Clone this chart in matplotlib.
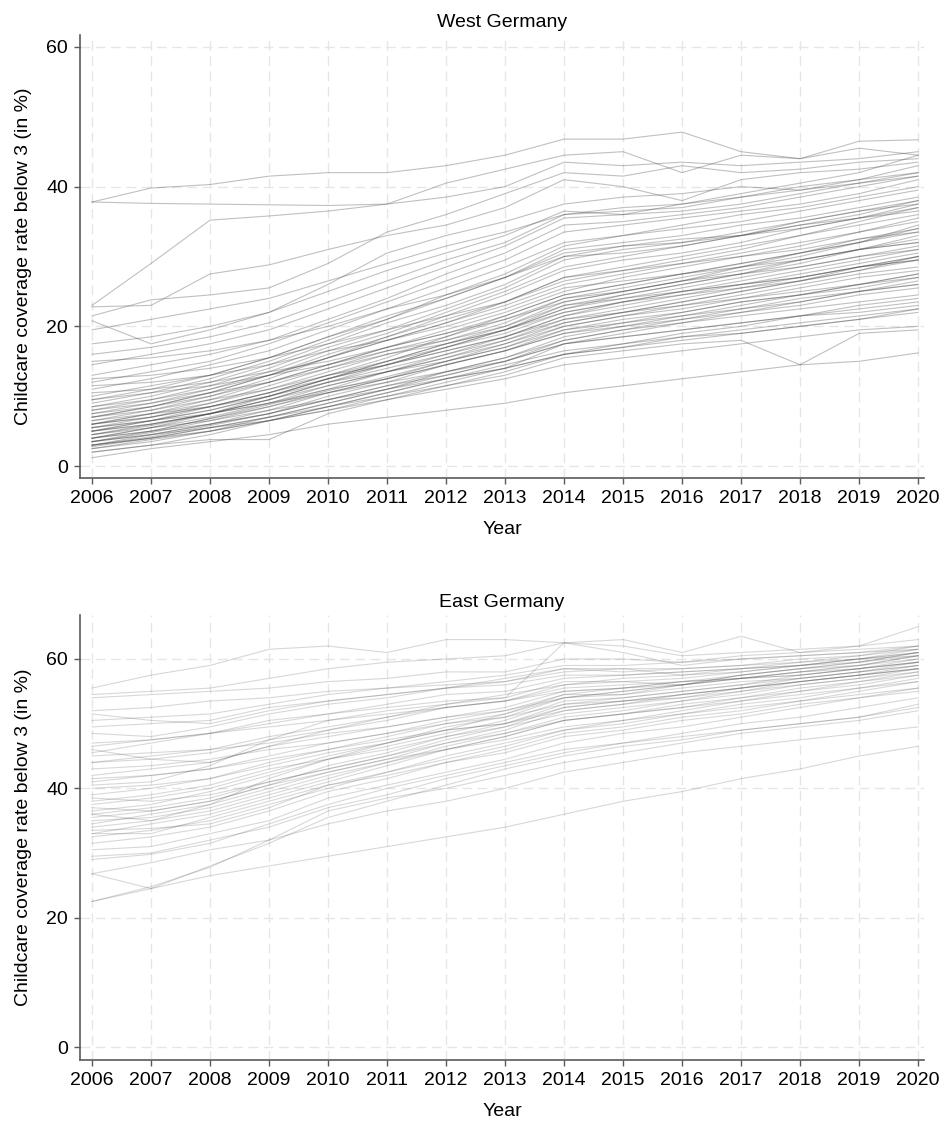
import matplotlib
matplotlib.use("Agg")
import matplotlib.pyplot as plt

plt.rcParams['font.family'] = ['Liberation Sans', 'DejaVu Sans']

years = list(range(2006, 2021))
year_ticks = years
rate_ticks = [0, 20, 40, 60]

# West German districts, childcare coverage for under-3s (%), 2006-2020
west_upper = [
    [37.8, 39.8, 40.3, 41.5, 42.0, 42.0, 43.0, 44.5, 46.8, 46.8, 47.8, 45.0, 44.0, 46.5, 46.7],
    [37.8, 37.6, 37.5, 37.4, 37.3, 37.5, 38.5, 40.0, 43.5, 43.0, 43.5, 43.0, 43.5, 44.0, 45.0],
    [23.0, 29.0, 35.2, 35.8, 36.5, 37.5, 40.5, 42.5, 44.5, 45.0, 42.0, 44.5, 44.0, 45.5, 44.5],
    [21.5, 23.8, 24.5, 25.5, 29.0, 33.5, 36.0, 39.0, 42.0, 41.5, 43.0, 42.0, 42.5, 43.5, 44.0],
    [22.8, 23.0, 27.5, 28.8, 31.0, 33.0, 34.5, 37.0, 41.0, 40.0, 38.0, 41.0, 42.0, 42.5, 43.5],
    [20.8, 17.5, 19.5, 22.0, 26.0, 30.5, 33.0, 35.0, 37.5, 38.5, 39.0, 40.0, 39.5, 41.0, 42.0],
    [19.5, 21.0, 22.5, 24.0, 26.5, 29.0, 31.5, 33.5, 36.0, 37.0, 37.5, 38.5, 39.5, 40.5, 41.5],
    [17.5, 18.5, 20.0, 22.0, 25.0, 28.0, 30.5, 33.0, 36.5, 36.0, 37.5, 39.0, 40.5, 42.0, 44.5],
    [16.0, 17.0, 18.5, 20.5, 23.5, 26.5, 29.5, 32.0, 36.0, 36.5, 37.0, 38.5, 40.0, 41.0, 43.0],
    [14.5, 16.0, 17.5, 19.5, 22.5, 25.5, 28.5, 31.5, 35.5, 36.0, 36.5, 37.5, 39.0, 40.5, 42.0],
    [15.0, 15.5, 16.5, 18.0, 20.0, 22.5, 24.5, 27.0, 30.5, 31.5, 32.0, 33.0, 34.0, 35.5, 36.5],
    [13.0, 14.5, 16.0, 18.0, 21.0, 24.0, 27.5, 30.5, 34.5, 35.0, 36.0, 37.0, 38.5, 40.0, 41.5],
    [12.0, 13.5, 15.0, 17.5, 20.5, 23.5, 26.5, 29.5, 33.5, 34.5, 35.5, 36.5, 37.5, 39.0, 41.0],
    [12.5, 13.0, 14.0, 15.5, 17.5, 19.5, 21.5, 23.5, 27.0, 28.0, 29.0, 30.0, 31.0, 32.5, 33.5],
    [11.0, 12.5, 14.5, 16.5, 19.5, 22.5, 25.5, 28.5, 32.0, 33.0, 34.5, 36.0, 37.0, 38.5, 40.0],
    [11.5, 12.0, 13.0, 14.5, 16.5, 18.0, 20.0, 22.5, 25.5, 26.5, 27.5, 28.5, 29.5, 31.0, 32.0],
]

west_middle = [
    [10.0, 11.5, 13.0, 15.5, 18.5, 21.0, 24.5, 27.5, 31.5, 33.0, 34.0, 35.0, 36.5, 38.0, 39.5],
    [10.5, 11.0, 12.0, 13.5, 15.0, 17.0, 19.0, 21.0, 24.0, 25.0, 26.5, 27.5, 28.5, 30.0, 31.0],
    [9.5, 11.0, 13.0, 15.5, 18.5, 21.5, 24.0, 27.0, 30.0, 30.5, 31.5, 33.0, 35.0, 36.5, 37.5],
    [9.5, 10.5, 11.5, 13.0, 14.5, 16.5, 18.0, 20.0, 23.0, 24.0, 25.0, 26.0, 27.0, 28.5, 29.5],
    [9.0, 10.5, 12.5, 15.0, 18.0, 21.0, 24.0, 27.0, 31.0, 32.0, 33.0, 34.5, 35.5, 37.0, 38.5],
    [8.5, 10.0, 12.0, 14.5, 17.5, 20.5, 23.0, 26.0, 30.0, 31.5, 32.5, 33.0, 34.5, 35.5, 37.0],
    [8.5, 9.5, 11.0, 13.0, 15.5, 18.5, 21.0, 23.5, 27.0, 28.5, 30.0, 31.5, 33.0, 34.5, 36.0],
    [8.0, 9.5, 11.5, 14.0, 17.0, 19.5, 22.5, 25.5, 29.5, 31.0, 32.0, 33.5, 35.0, 36.5, 38.0],
    [8.0, 9.0, 10.5, 12.0, 14.0, 16.0, 17.5, 19.5, 22.0, 23.5, 24.5, 25.5, 27.0, 28.5, 30.0],
    [7.5, 9.0, 11.0, 13.5, 16.5, 19.0, 22.0, 25.0, 28.5, 30.0, 31.5, 33.0, 34.5, 36.0, 38.0],
    [7.5, 8.5, 10.0, 12.0, 14.5, 17.0, 19.0, 21.5, 24.5, 26.0, 27.5, 29.0, 30.5, 32.5, 34.0],
    [7.0, 8.5, 10.5, 13.0, 16.0, 18.5, 21.5, 24.5, 28.0, 29.5, 30.5, 32.0, 34.0, 35.5, 37.5],
    [7.0, 8.5, 10.5, 13.0, 15.5, 18.0, 20.5, 23.0, 26.0, 27.5, 29.0, 30.5, 32.0, 33.5, 35.0],
    [7.0, 8.0, 9.5, 11.0, 13.0, 14.5, 16.5, 18.5, 21.0, 22.0, 23.0, 24.5, 26.0, 27.5, 28.5],
    [6.5, 8.0, 10.0, 12.5, 15.5, 18.0, 20.5, 23.5, 26.5, 28.0, 29.5, 31.0, 33.0, 35.0, 37.0],
    [6.5, 7.5, 8.5, 10.0, 12.0, 13.5, 15.0, 17.0, 19.5, 20.5, 21.5, 22.5, 24.0, 25.0, 26.0],
    [6.0, 7.5, 9.5, 12.0, 14.5, 17.0, 19.5, 22.0, 25.0, 27.0, 28.5, 30.0, 31.5, 33.5, 35.5],
    [6.0, 7.5, 9.0, 11.5, 14.0, 16.5, 18.5, 21.5, 24.5, 26.0, 27.5, 29.0, 30.5, 32.0, 33.5],
    [6.0, 7.0, 8.5, 10.5, 12.5, 15.0, 17.0, 19.0, 22.0, 23.5, 25.0, 26.0, 27.5, 29.0, 30.5],
    [6.0, 7.0, 8.5, 10.5, 13.0, 15.5, 18.5, 21.0, 23.5, 25.0, 26.5, 28.0, 29.5, 31.0, 32.0],
    [5.5, 7.0, 9.0, 11.0, 13.5, 16.0, 18.0, 20.5, 24.0, 25.5, 27.0, 28.5, 30.5, 32.0, 34.0],
    [5.5, 6.5, 8.0, 10.0, 12.5, 14.5, 16.5, 18.5, 21.5, 23.0, 24.5, 26.0, 27.0, 28.5, 29.5],
    [5.5, 6.5, 7.5, 9.0, 10.5, 12.0, 13.5, 15.0, 17.5, 18.5, 19.5, 20.5, 21.5, 22.5, 23.5],
    [5.0, 6.5, 8.5, 10.5, 13.0, 15.0, 17.5, 19.5, 23.0, 24.5, 26.0, 27.5, 29.0, 31.0, 32.5],
    [5.0, 6.5, 8.0, 10.0, 12.5, 14.5, 17.0, 19.5, 22.5, 24.0, 25.5, 27.0, 28.5, 30.0, 31.5],
    [5.0, 6.0, 7.5, 9.5, 11.5, 13.5, 15.5, 17.5, 20.0, 21.5, 23.0, 24.0, 25.5, 27.0, 28.0],
    [5.0, 6.0, 7.5, 9.0, 11.0, 12.5, 14.5, 16.5, 19.5, 21.0, 22.0, 23.5, 24.5, 25.5, 27.0],
]

west_lower = [
    [4.5, 5.8, 7.5, 9.5, 12.0, 14.0, 16.0, 18.5, 21.5, 23.5, 25.0, 26.5, 28.0, 29.5, 31.0],
    [4.5, 6.0, 7.5, 9.5, 12.0, 14.5, 17.0, 19.5, 22.5, 24.5, 26.0, 27.5, 29.5, 31.0, 33.0],
    [4.5, 5.5, 6.5, 8.0, 9.5, 11.0, 12.5, 14.0, 16.0, 17.0, 18.0, 19.0, 20.0, 21.0, 22.5],
    [4.0, 5.0, 6.8, 8.8, 11.0, 13.5, 15.5, 18.0, 21.0, 22.5, 24.0, 25.5, 26.5, 28.0, 29.5],
    [4.0, 5.5, 7.0, 9.0, 11.5, 13.5, 16.0, 18.0, 20.5, 22.0, 23.5, 25.0, 26.5, 28.0, 30.0],
    [4.0, 5.5, 7.5, 10.0, 12.5, 15.0, 17.5, 20.0, 23.5, 25.0, 26.5, 28.5, 30.0, 32.0, 34.5],
    [4.0, 5.0, 6.0, 7.5, 10.0, 12.0, 14.5, 16.5, 19.0, 20.0, 21.0, 22.0, 23.0, 24.5, 25.5],
    [3.5, 4.8, 6.5, 8.5, 10.8, 12.8, 15.0, 17.0, 20.0, 21.5, 22.5, 24.0, 25.0, 26.0, 27.5],
    [3.5, 5.0, 6.8, 8.5, 10.5, 12.5, 14.5, 16.5, 19.0, 20.5, 22.0, 23.5, 24.5, 26.0, 27.0],
    [3.5, 4.5, 6.0, 7.5, 9.5, 11.5, 13.0, 15.0, 18.0, 19.5, 21.0, 22.5, 23.5, 25.0, 26.5],
    [3.5, 4.5, 5.5, 6.5, 8.0, 9.5, 11.0, 12.5, 14.5, 15.5, 16.5, 17.5, 18.5, 19.5, 20.0],
    [3.0, 4.2, 5.8, 7.5, 9.5, 11.5, 13.5, 15.5, 18.0, 19.5, 20.5, 21.5, 22.5, 23.5, 24.5],
    [3.0, 4.0, 5.5, 7.0, 9.0, 11.0, 13.0, 15.0, 17.5, 19.0, 20.5, 22.0, 23.5, 25.0, 26.0],
    [3.0, 4.0, 5.0, 6.5, 8.5, 10.5, 12.5, 14.0, 17.5, 18.5, 19.5, 20.5, 21.5, 22.0, 23.0],
    [3.0, 4.5, 6.0, 8.0, 10.5, 12.5, 15.0, 17.5, 20.5, 22.0, 23.5, 25.0, 26.5, 28.5, 30.0],
    [2.8, 4.0, 5.5, 7.0, 8.5, 10.0, 11.5, 13.5, 16.0, 17.0, 18.5, 19.5, 20.5, 21.5, 22.5],
    [2.5, 3.8, 5.0, 6.5, 8.0, 10.0, 12.0, 14.0, 16.0, 17.5, 19.0, 20.0, 21.5, 23.0, 24.0],
    [2.5, 3.5, 5.0, 7.0, 9.0, 11.0, 13.5, 15.5, 18.5, 20.0, 21.5, 23.0, 24.5, 26.0, 27.5],
    [2.0, 3.0, 4.5, 6.5, 8.5, 10.5, 12.5, 14.5, 16.5, 17.5, 18.5, 19.0, 20.0, 21.0, 22.0],
    [2.0, 3.0, 3.8, 3.8, 7.5, 9.5, 11.5, 13.0, 15.5, 16.5, 17.5, 18.0, 14.5, 19.0, 19.5],
    [1.2, 2.5, 3.5, 4.5, 6.0, 7.0, 8.0, 9.0, 10.5, 11.5, 12.5, 13.5, 14.5, 15.0, 16.2],
]

# East German districts
east_upper = [
    [55.5, 57.5, 59.0, 61.5, 62.0, 61.0, 63.0, 63.0, 62.5, 63.0, 61.0, 63.5, 61.0, 62.0, 65.0],
    [54.5, 55.0, 55.5, 57.0, 58.5, 59.5, 60.0, 60.5, 62.5, 62.0, 60.5, 61.0, 61.5, 62.0, 63.0],
    [54.0, 54.5, 55.0, 55.5, 56.5, 57.0, 58.0, 58.0, 60.0, 60.0, 59.5, 60.5, 61.0, 61.5, 62.0],
    [52.0, 52.5, 53.5, 54.0, 55.0, 55.5, 56.5, 57.5, 59.0, 59.0, 59.5, 60.0, 60.5, 61.0, 61.5],
    [51.5, 50.5, 50.0, 52.0, 53.5, 54.5, 55.5, 57.0, 58.5, 58.5, 57.5, 58.0, 59.0, 60.0, 60.5],
    [50.5, 51.0, 51.5, 53.0, 54.5, 55.5, 56.0, 56.5, 58.0, 58.5, 58.5, 59.0, 60.0, 60.5, 62.0],
    [49.5, 50.0, 50.5, 52.5, 53.5, 54.5, 55.5, 56.0, 57.5, 57.5, 58.0, 58.5, 59.5, 60.0, 61.0],
    [48.5, 48.0, 49.5, 51.5, 53.0, 54.0, 55.5, 56.5, 58.5, 58.0, 58.5, 59.0, 59.5, 60.5, 61.5],
    [47.0, 47.5, 48.5, 49.5, 50.5, 51.5, 52.5, 53.5, 55.0, 55.5, 56.5, 57.0, 58.0, 58.5, 59.5],
    [46.5, 47.5, 48.5, 50.0, 51.5, 53.0, 54.5, 55.0, 57.0, 57.5, 58.0, 58.5, 59.0, 60.0, 61.5],
    [46.0, 44.5, 44.0, 46.5, 49.0, 51.0, 52.5, 53.5, 55.5, 56.0, 56.5, 57.0, 57.5, 58.5, 59.5],
    [45.5, 47.0, 48.5, 50.5, 51.5, 52.5, 53.5, 54.0, 56.5, 56.5, 56.0, 57.5, 58.5, 59.0, 60.5],
    [45.0, 45.5, 46.0, 47.0, 48.5, 49.5, 51.0, 52.0, 54.0, 54.5, 55.5, 56.5, 57.0, 58.0, 59.0],
    [44.0, 44.5, 45.5, 47.5, 49.0, 50.5, 52.5, 53.5, 56.0, 56.5, 57.0, 58.0, 59.0, 59.5, 61.0],
    [44.0, 45.0, 46.0, 48.0, 49.5, 51.0, 53.0, 54.0, 62.5, 61.0, 59.0, 60.0, 60.5, 61.0, 62.0],
]

east_middle = [
    [43.0, 43.5, 44.5, 46.0, 47.0, 48.5, 50.0, 51.0, 53.0, 54.0, 55.0, 56.0, 57.0, 58.0, 59.0],
    [42.0, 43.0, 44.0, 46.5, 48.0, 49.5, 51.0, 52.5, 55.0, 55.5, 56.0, 57.0, 58.0, 59.0, 60.0],
    [41.5, 42.0, 43.0, 45.0, 47.0, 48.5, 50.5, 52.0, 54.5, 55.5, 56.5, 57.5, 58.5, 59.5, 60.5],
    [41.0, 42.0, 43.0, 44.5, 46.0, 47.5, 49.0, 50.0, 52.5, 53.5, 54.0, 55.0, 56.5, 57.5, 58.5],
    [40.5, 41.0, 43.5, 47.5, 50.5, 52.0, 53.0, 54.5, 56.0, 57.0, 57.5, 58.5, 59.0, 60.0, 61.0],
    [40.0, 40.5, 41.5, 43.5, 45.5, 47.0, 49.0, 50.0, 52.0, 53.0, 54.5, 55.5, 56.5, 57.5, 58.5],
    [39.0, 40.0, 41.5, 44.0, 46.0, 48.0, 50.0, 51.5, 54.0, 55.0, 56.0, 57.5, 58.5, 59.5, 61.0],
    [38.5, 38.0, 39.0, 41.0, 43.0, 45.0, 47.0, 48.5, 50.5, 51.5, 52.5, 53.5, 54.5, 55.5, 56.5],
    [38.0, 39.0, 40.5, 43.0, 44.5, 46.0, 48.0, 49.5, 51.5, 52.5, 53.5, 55.0, 56.0, 57.0, 58.0],
    [37.5, 38.5, 40.0, 42.5, 45.0, 47.0, 49.5, 51.0, 54.0, 55.0, 56.0, 57.0, 58.0, 59.0, 60.5],
    [37.0, 36.5, 38.0, 40.5, 42.5, 44.5, 46.0, 47.5, 49.5, 50.5, 51.5, 52.5, 53.5, 54.5, 55.5],
    [36.5, 37.5, 39.5, 42.0, 44.5, 46.5, 48.5, 50.5, 53.5, 54.0, 55.0, 56.0, 57.5, 58.5, 60.0],
    [36.0, 37.0, 38.5, 41.0, 43.0, 45.0, 47.5, 49.5, 52.5, 53.5, 54.5, 55.5, 56.5, 57.5, 58.5],
    [36.0, 35.0, 37.5, 41.5, 44.5, 47.0, 49.0, 51.5, 54.5, 54.5, 56.0, 57.0, 57.5, 58.5, 59.5],
    [35.5, 36.5, 38.0, 40.5, 43.5, 45.5, 48.0, 50.0, 53.0, 53.5, 54.5, 55.5, 57.0, 58.0, 59.5],
]

east_lower = [
    [35.0, 35.5, 37.0, 39.5, 42.0, 44.0, 46.0, 48.0, 50.5, 51.5, 52.5, 54.0, 55.0, 56.5, 57.5],
    [34.5, 36.0, 37.5, 40.0, 42.5, 44.5, 47.0, 49.0, 52.0, 53.0, 54.0, 55.5, 56.5, 57.5, 59.0],
    [34.0, 35.0, 36.5, 39.0, 41.5, 44.0, 46.5, 48.5, 51.0, 52.0, 53.5, 54.5, 56.0, 57.0, 58.5],
    [33.5, 33.8, 34.5, 37.0, 40.5, 42.5, 44.5, 46.5, 49.0, 50.0, 51.5, 53.0, 54.0, 55.5, 57.0],
    [33.0, 34.5, 36.0, 38.5, 41.0, 43.5, 46.0, 48.0, 50.5, 51.5, 53.0, 54.0, 55.5, 56.5, 58.0],
    [33.0, 33.0, 35.5, 38.0, 40.5, 42.0, 44.0, 45.5, 48.0, 49.0, 50.5, 51.5, 53.0, 54.0, 55.0],
    [32.5, 33.5, 35.0, 37.5, 40.0, 42.5, 45.0, 47.0, 49.0, 50.5, 52.0, 53.5, 55.0, 56.0, 57.5],
    [31.5, 32.5, 34.0, 36.5, 39.5, 41.5, 44.0, 46.0, 48.5, 49.5, 51.0, 52.0, 53.5, 55.0, 56.5],
    [30.5, 31.0, 33.0, 35.0, 38.5, 40.5, 42.5, 44.5, 47.0, 48.5, 49.5, 51.0, 52.5, 54.0, 55.5],
    [29.5, 30.0, 32.0, 34.0, 37.0, 39.0, 41.5, 43.5, 45.5, 47.0, 48.5, 50.0, 51.0, 52.5, 54.0],
    [29.0, 29.8, 31.5, 34.5, 37.5, 40.0, 42.0, 44.0, 46.0, 47.0, 48.0, 49.0, 50.0, 51.0, 52.5],
    [26.8, 28.5, 30.5, 32.0, 34.5, 36.5, 38.0, 40.0, 42.5, 44.0, 45.5, 46.5, 47.5, 48.5, 49.5],
    [26.8, 24.5, 28.0, 31.5, 35.5, 38.0, 40.5, 43.0, 45.0, 46.5, 47.5, 49.0, 50.0, 51.0, 53.0],
    [22.5, 24.8, 27.8, 32.0, 36.5, 38.5, 40.0, 42.0, 44.0, 45.5, 47.0, 48.5, 49.5, 50.5, 52.0],
    [22.5, 24.5, 26.5, 28.0, 29.5, 31.0, 32.5, 34.0, 36.0, 38.0, 39.5, 41.5, 43.0, 45.0, 46.5],
]

panels = [
    ("West Germany", west_upper + west_middle + west_lower, (-1.7, 61.7), 0.32),
    ("East Germany", east_upper + east_middle + east_lower, (-2.0, 66.8), 0.20),
]

W, H = 944, 1122
fig = plt.figure(figsize=(W / 100, H / 100), dpi=100)

# axes boxes in pixels: left, top, right, bottom
boxes = [(80, 35, 924, 478), (80, 615, 924, 1060)]

spine_col = '#5a5a5a'
for (title, rows, ylim, alpha), (l, t, r, b) in zip(panels, boxes):
    ax = fig.add_axes([l / W, 1 - b / H, (r - l) / W, (b - t) / H])
    for row in rows:
        ax.plot(years, row, color='#3c3c3c', alpha=alpha, lw=0.8, zorder=2)

    ax.set_xlim(2005.797, 2020.10)
    ax.set_ylim(*ylim)
    ax.set_xticks(year_ticks)
    ax.set_yticks(rate_ticks)
    ax.grid(True, color='#e6e6e6', lw=1.0, ls=(0, (7, 4)), zorder=0)
    ax.set_axisbelow(True)

    for side in ['top', 'right']:
        ax.spines[side].set_visible(False)
    for side in ['left', 'bottom']:
        ax.spines[side].set_color(spine_col)
        ax.spines[side].set_linewidth(1.2)
    ax.tick_params(axis='both', direction='out', length=4.5, width=1.0,
                   color=spine_col, labelsize=14, pad=4)

    ax.set_title(title, fontsize=14, pad=6)
    ax.set_xlabel('Year', fontsize=14, labelpad=10)
    ax.set_ylabel('Childcare coverage rate below 3 (in %)', fontsize=14, labelpad=10)

fig.savefig('out.png', dpi=100)
